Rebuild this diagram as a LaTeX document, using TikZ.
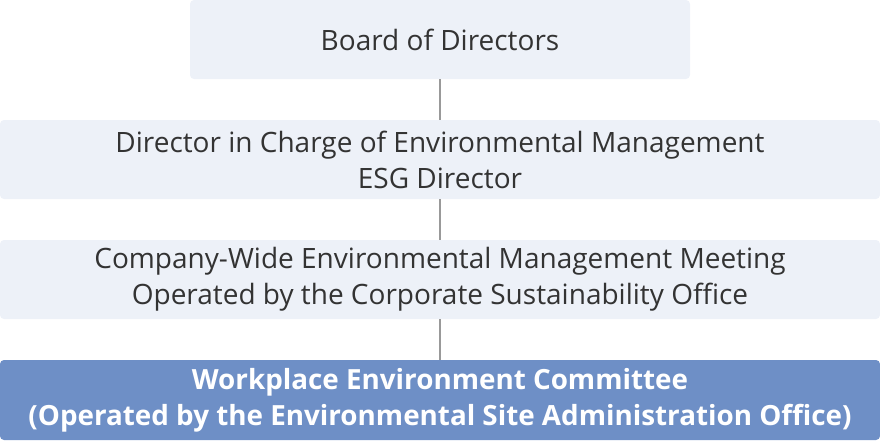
\documentclass[tikz,border=0pt]{standalone}
\usepackage{fontspec}
\setmainfont{Open Sans}
\definecolor{boxgray}{HTML}{EDF1F8}
\definecolor{boxblue}{HTML}{6E8FC6}
\definecolor{linegray}{HTML}{999999}
\begin{document}
\begin{tikzpicture}[x=1pt,y=-1pt,
  box/.style={fill=boxgray,rounded corners=4pt,align=center,text=black!80,
    font=\fontsize{28}{36}\selectfont,inner sep=0pt},
  bluebox/.style={box,fill=boxblue,text=white,font=\fontsize{27.8}{36}\selectfont\bfseries}]
\useasboundingbox (0,0) rectangle (880,440);
\node[box,minimum width=500pt,minimum height=79pt] (board) at (440,39.5) {Board of Directors};
\node[box,minimum width=880pt,minimum height=79pt] (director) at (440,159.5) {Director in Charge of Environmental Management\\ESG Director};
\node[box,minimum width=880pt,minimum height=79pt] (meeting) at (440,279.5) {Company-Wide Environmental Management Meeting\\Operated by the Corporate Sustainability Office};
\node[bluebox,minimum width=880pt,minimum height=80pt] (committee) at (440,400) {Workplace Environment Committee\\(Operated by the Environmental Site Administration Office)};
\draw[linegray,line width=1.2pt] (board)--(director);
\draw[linegray,line width=1.2pt] (director)--(meeting);
\draw[linegray,line width=1.2pt] (meeting)--(committee);
\end{tikzpicture}
\end{document}
